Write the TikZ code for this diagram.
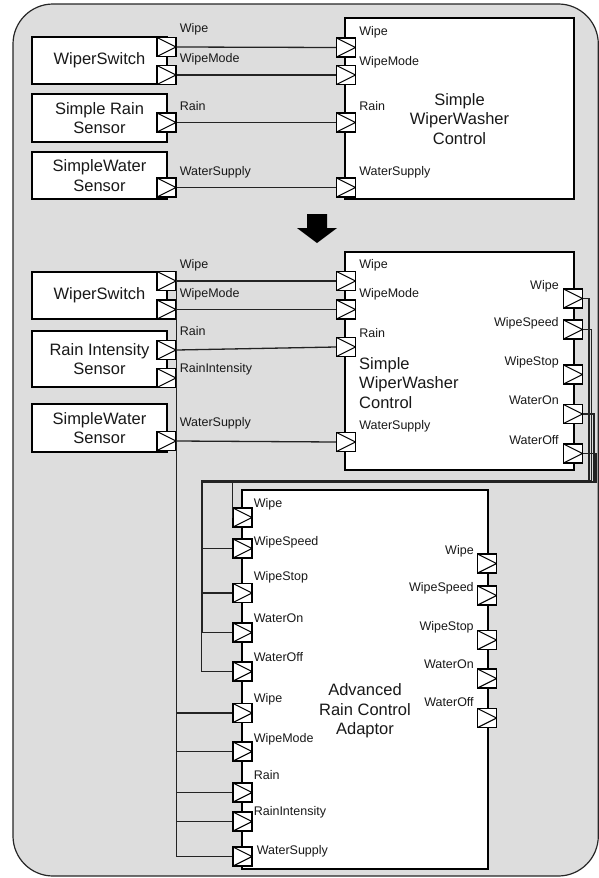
\documentclass[tikz,border=0pt]{standalone}
\usepackage{fontspec}
\setmainfont{Liberation Sans}
\usetikzlibrary{calc}
\definecolor{panel}{RGB}{221,221,221}
\definecolor{ink}{RGB}{25,25,25}
\definecolor{wirec}{RGB}{35,35,35}
\newcommand{\psz}{\fontsize{12.5}{14}\selectfont}
\newcommand{\bsz}{\fontsize{16.5}{19.5}\selectfont}

\begin{document}
\begin{tikzpicture}[x=1pt, y=-1pt,
    blk/.style={rectangle, draw=black, fill=white, line width=1.3pt, inner sep=0pt},
    btxt/.style={align=center, font=\bsz, text=ink, inner sep=0pt},
    port/.style={rectangle, draw=black, fill=white, line width=1.2pt, minimum size=19pt, inner sep=0pt,
                 path picture={\draw[line width=1.1pt] (path picture bounding box.north west)
                   -- (path picture bounding box.east) -- (path picture bounding box.south west);}},
    rl/.style={anchor=base west, inner sep=0pt, xshift=3pt, yshift=2pt, font=\psz, text=ink},
    ll/.style={anchor=base east, inner sep=0pt, xshift=-4pt, yshift=-1pt, font=\psz, text=ink},
    wire/.style={draw=wirec, line width=1.3pt},
  ]
    \useasboundingbox (0,0) rectangle (599,878);
    \draw[fill=panel, draw=black!85, line width=1.2pt, rounded corners=40pt] (13,4) rectangle (598.3,876);

    % before
    \node[blk, btxt, minimum width=135pt, minimum height=47pt] (sw1) at (99.5,60.5) {WiperSwitch};
    \node[blk, btxt, minimum width=135pt, minimum height=48pt] (rs1) at (99.5,118) {Simple Rain\\Sensor};
    \node[blk, btxt, minimum width=135pt, minimum height=47pt] (wt1) at (99.5,175.5) {SimpleWater\\Sensor};
    \node[blk, minimum width=229pt, minimum height=181pt] (ctl1) at (459.5,108.5) {};
    \node[btxt] (ctl1t) at (459.5,119) {Simple\\WiperWasher\\Control};

    \node[port, label={[rl,yshift=2pt]north east:Wipe}]     (sw1a) at (166.5,47) {};
    \node[port, label={[rl]north east:WipeMode}]             (sw1b) at (166.5,75) {};
    \node[port, label={[rl]north east:Rain}]                 (rs1a) at (166.5,122.5) {};
    \node[port, label={[rl]north east:WaterSupply}]          (wt1a) at (166.5,187.5) {};
    \node[port, label={[rl]north east:Wipe}]                 (c1a) at (346,47.5) {};
    \node[port, label={[rl,yshift=-3pt]north east:WipeMode}] (c1b) at (346,75) {};
    \node[port, label={[rl]north east:Rain}]                 (c1c) at (346,122.5) {};
    \node[port, label={[rl]north east:WaterSupply}]          (c1d) at (346,187.5) {};

    \draw[wire] (sw1a.east) -- (c1a.west);
    \draw[wire] (sw1b.east) -- (c1b.west);
    \draw[wire] (rs1a.east) -- (c1c.west);
    \draw[wire] (wt1a.east) -- (c1d.west);

    \fill[black] (307,214) -- (327,214) -- (327,228) -- (337,228) -- (317,243) -- (297,228) -- (307,228) -- cycle;

    % after
    \node[blk, btxt, minimum width=135pt, minimum height=47pt] (sw2) at (99.5,295.5) {WiperSwitch};
    \node[blk, btxt, minimum width=135pt, minimum height=56pt] (ri2) at (99.5,359) {Rain Intensity\\Sensor};
    \node[blk, btxt, minimum width=135pt, minimum height=48pt] (wt2) at (99.5,428) {SimpleWater\\Sensor};
    \node[blk, minimum width=229pt, minimum height=218pt] (ctl2) at (459.5,361) {};
    \node[btxt, align=left, anchor=west] (ctl2t) at (359,383) {Simple\\WiperWasher\\Control};
    \node[blk, minimum width=246pt, minimum height=379pt] (arc) at (365,679.5) {};
    \node[btxt] (arct) at (365,711) {Advanced\\Rain Control\\Adaptor};

    \node[port, label={[rl]north east:Wipe}]                      (sw2a) at (166.5,281) {};
    \node[port, label={[rl]north east:WipeMode}]                  (sw2b) at (166.5,309.5) {};
    \node[port, label={[rl,yshift=2pt]north east:Rain}]           (ri2a) at (166.5,350) {};
    \node[port, label={[rl,yshift=-7pt]north east:RainIntensity}] (ri2b) at (166.5,378) {};
    \node[port, label={[rl,yshift=2pt]north east:WaterSupply}]    (wt2a) at (166.5,441) {};

    \node[port, label={[rl]north east:Wipe}]     (c2a) at (346,281) {};
    \node[port, label={[rl]north east:WipeMode}] (c2b) at (346,309.5) {};
    \node[port, label={[rl,yshift=-3pt]north east:Rain}] (c2c) at (346,347) {};
    \node[port, label={[rl]north east:WaterSupply}] (c2d) at (346,442) {};

    \node[port, label={[ll]north west:Wipe}]                 (oa) at (573,298.5) {};
    \node[port, label={[ll,yshift=-6pt]north west:WipeSpeed}] (ob) at (573,329.5) {};
    \node[port, label={[ll]north west:WipeStop}]             (oc) at (573,374.5) {};
    \node[port, label={[ll]north west:WaterOn}]              (od) at (573,414) {};
    \node[port, label={[ll]north west:WaterOff}]             (oe) at (573,453.5) {};

    \node[port, label={[rl,xshift=-2pt,yshift=-2pt]north east:Wipe}]      (aa) at (242.5,517.5) {};
    \node[port, label={[rl,xshift=-2pt,yshift=-9pt]north east:WipeSpeed}] (ab) at (242.5,548.5) {};
    \node[port, label={[rl,xshift=-2pt]north east:WipeStop}]              (ac) at (242.5,593) {};
    \node[port, label={[rl,xshift=-2pt,yshift=-2pt]north east:WaterOn}]   (ad) at (242.5,632.5) {};
    \node[port, label={[rl,xshift=-2pt,yshift=-2pt]north east:WaterOff}]  (ae) at (242.5,671.5) {};
    \node[port, label={[rl,xshift=-2pt,yshift=-2pt]north east:Wipe}]      (af) at (242.5,713) {};
    \node[port, label={[rl,xshift=-2pt,yshift=-3pt]north east:WipeMode}]  (ag) at (242.5,751.5) {};
    \node[port, label={[rl,xshift=-2pt,yshift=1pt]north east:Rain}]       (ah) at (242.5,792.5) {};
    \node[port, label={[rl,xshift=-2pt,yshift=-6pt]north east:RainIntensity}] (ai) at (242.5,821.5) {};
    \node[port, label={[rl,xshift=1pt,yshift=-10pt]north east:WaterSupply}]   (aj) at (242.5,856.5) {};

    \node[port, label={[ll,xshift=1pt]north west:Wipe}]                 (ra) at (487,563.5) {};
    \node[port, label={[ll,xshift=1pt,yshift=-5pt]north west:WipeSpeed}] (rb) at (487,595.5) {};
    \node[port, label={[ll,xshift=1pt]north west:WipeStop}]             (rc) at (487,640) {};
    \node[port, label={[ll,xshift=1pt,yshift=1pt]north west:WaterOn}]   (rd) at (487,678.5) {};
    \node[port, label={[ll,xshift=1pt,yshift=2pt]north west:WaterOff}]  (re) at (487,718) {};

    \draw[wire] (sw2a.east) -- (c2a.west);
    \draw[wire] (sw2b.east) -- (c2b.west);
    \draw[wire] (ri2a.east) -- (c2c.west);
    \draw[wire] (wt2a.east) -- (c2d.west);

    \coordinate (bus) at (sw2a.north east);
    \draw[wire] (bus) -- (bus |- aj.west);
    \draw[wire] (bus |- af.west) -- (af.west);
    \draw[wire] (bus |- ag.west) -- (ag.west);
    \draw[wire] (bus |- ah.west) -- (ah.west);
    \draw[wire] (bus |- ai.west) -- (ai.west);
    \draw[wire] (bus |- aj.west) -- (aj.west);

    \coordinate (hb) at (202,481);
    \draw[wire] (oa.east) -- ++(6,0) coordinate (oa1) -- ($(oa1 |- hb)+(0,-0.8)$) -| (aa.west);
    \draw[wire] (ob.east) -- ++(8.5,0) coordinate (ob1) -- (ob1 |- hb) -- (hb) |- (ab.west);
    \draw[wire] (od.east) -- ++(11,0) coordinate (od1) -- ($(od1 |- hb)+(0,0.8)$) -- ($(hb)+(0,0.8)$);
    \draw[wire] (oe.east) -- ++(13,0) coordinate (oe1) -- ($(oe1 |- hb)+(0,1.6)$) -- ($(hb)+(-0.8,1.6)$) |- (ae.west);
    \draw[wire] (hb) |- (ac.west);
    \draw[wire] (hb) |- (ad.west);
\end{tikzpicture}
\end{document}
